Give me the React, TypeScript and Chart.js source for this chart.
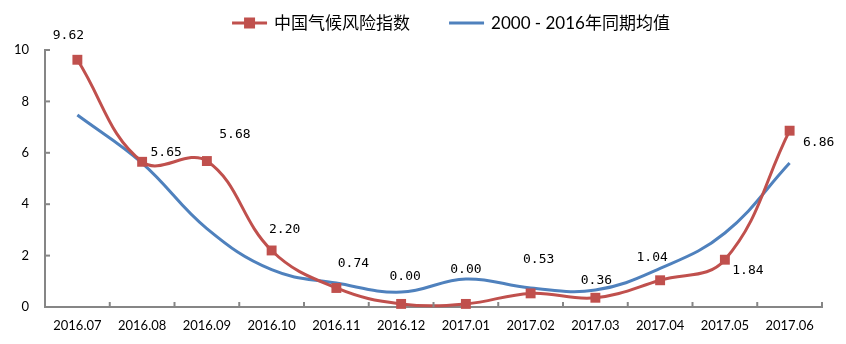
import React, { useEffect, useRef } from "react";
import { Chart, registerables } from "chart.js";

Chart.register(...registerables);

const categories = [
  "2016.07", "2016.08", "2016.09", "2016.10", "2016.11", "2016.12",
  "2017.01", "2017.02", "2017.03", "2017.04", "2017.05", "2017.06",
];
const riskIndex = [9.62, 5.65, 5.68, 2.2, 0.74, 0.12, 0.12, 0.53, 0.36, 1.04, 1.84, 6.86];
const riskLabels = ["9.62", "5.65", "5.68", "2.20", "0.74", "0.00", "0.00", "0.53", "0.36", "1.04", "1.84", "6.86"];
const averageValues = [7.47, 5.6, 3.05, 1.45, 0.93, 0.58, 1.09, 0.74, 0.66, 1.5, 2.88, 5.6];
const yTicks = [0, 2, 4, 6, 8, 10];
const seriesNames = ["中国气候风险指数", "2000 - 2016年同期均值"];

// label offsets (dx, dy) relative to each point — styling only
const labelOffsets: [number, number][] = [
  [-9, -24], [24, -9], [28, -26], [13, -21], [17, -24], [4, -27],
  [0, -34], [8, -34], [1, -17], [-8, -23], [23, 11], [29, 12],
];

const RED = "#C0504D";
const BLUE = "#4F81BD";
const AXIS = "#868686";

export default function App() {
  const ref = useRef<HTMLCanvasElement | null>(null);
  useEffect(() => {
    if (!ref.current) return;

    const axisTicks = {
      id: "axisTicks",
      afterDraw(chart: any) {
        const ctx = chart.ctx;
        const { left, right, bottom } = chart.chartArea;
        ctx.save();
        ctx.strokeStyle = AXIS;
        ctx.lineWidth = 2;
        const n = categories.length;
        for (let i = 1; i <= n; i++) {
          const x = left + (i * (right - left)) / n;
          ctx.beginPath();
          ctx.moveTo(x, bottom);
          ctx.lineTo(x, bottom - 5);
          ctx.stroke();
        }
        const ys = chart.scales.y;
        yTicks.forEach((v) => {
          if (v === 0) return;
          const y = ys.getPixelForValue(v);
          ctx.beginPath();
          ctx.moveTo(left, y);
          ctx.lineTo(left + 5, y);
          ctx.stroke();
        });
        ctx.restore();
      },
    };

    const dataLabels = {
      id: "dataLabels",
      afterDatasetsDraw(chart: any) {
        const ctx = chart.ctx;
        const meta = chart.getDatasetMeta(0);
        ctx.save();
        ctx.font = "13px 'DejaVu Sans Mono'";
        ctx.fillStyle = "#000";
        ctx.textAlign = "center";
        ctx.textBaseline = "middle";
        meta.data.forEach((pt: any, i: number) => {
          const [dx, dy] = labelOffsets[i];
          ctx.fillText(riskLabels[i], pt.x + dx, pt.y + dy);
        });
        ctx.restore();
      },
    };

    const customLegend = {
      id: "customLegend",
      afterDraw(chart: any) {
        const ctx = chart.ctx;
        ctx.save();
        ctx.font = "17px Lato, 'Noto Sans CJK SC'";
        const w1 = ctx.measureText(seriesNames[0]).width;
        const w2 = ctx.measureText(seriesNames[1]).width;
        const lineW = 35;
        const gap = 7;
        const between = 39;
        const total = lineW + gap + w1 + between + lineW + gap + w2;
        const cy = 15;
        let x = chart.width / 2 + 28 - total / 2;
        // red item
        ctx.strokeStyle = RED;
        ctx.lineWidth = 3;
        ctx.beginPath();
        ctx.moveTo(x, cy);
        ctx.lineTo(x + lineW, cy);
        ctx.stroke();
        ctx.fillStyle = RED;
        ctx.fillRect(x + lineW / 2 - 5.5, cy - 5.5, 11, 11);
        x += lineW + gap;
        ctx.fillStyle = "#000";
        ctx.textBaseline = "middle";
        ctx.textAlign = "left";
        ctx.fillText(seriesNames[0], x, cy + 1);
        x += w1 + between;
        ctx.strokeStyle = BLUE;
        ctx.beginPath();
        ctx.moveTo(x, cy);
        ctx.lineTo(x + lineW, cy);
        ctx.stroke();
        x += lineW + gap;
        ctx.fillText(seriesNames[1], x, cy + 1);
        ctx.restore();
      },
    };

    const chart = new Chart(ref.current, {
      type: "line",
      data: {
        labels: categories,
        datasets: [
          {
            label: seriesNames[0],
            data: riskIndex,
            borderColor: RED,
            backgroundColor: RED,
            borderWidth: 3,
            pointStyle: "rect",
            pointRadius: 7,
            pointBorderWidth: 0,
            pointBackgroundColor: RED,
            tension: 0.4,
            clip: false as any,
          },
          {
            label: seriesNames[1],
            data: averageValues,
            borderColor: BLUE,
            backgroundColor: BLUE,
            borderWidth: 3,
            pointRadius: 0,
            tension: 0.4,
          },
        ],
      },
      options: {
        animation: false,
        responsive: true,
        maintainAspectRatio: false,
        layout: { padding: { top: 42, right: 16, left: 0, bottom: 0 } },
        plugins: {
          legend: { display: false },
          tooltip: { enabled: false },
        },
        scales: {
          x: {
            type: "category",
            offset: true,
            grid: { display: false, drawTicks: false },
            border: { display: true, color: AXIS, width: 2 },
            ticks: {
              color: "#000",
              font: { family: "Lato", size: 13 },
              padding: 11,
              maxRotation: 0,
              autoSkip: false,
            },
            afterFit(scale: any) {
              scale.height = 29;
            },
          },
          y: {
            min: 0,
            max: 10,
            grid: { display: false, drawTicks: false },
            border: { display: true, color: AXIS, width: 2 },
            ticks: {
              stepSize: 2,
              color: "#000",
              font: { family: "Lato", size: 13 },
              padding: 16,
            },
            afterFit(scale: any) {
              scale.width = 37;
            },
          },
        },
      },
      plugins: [axisTicks, dataLabels, customLegend],
    });
    return () => chart.destroy();
  }, []);

  return (
    <div style={{ position: "relative", width: 830, height: 328 }}>
      <canvas ref={ref} />
    </div>
  );
}
